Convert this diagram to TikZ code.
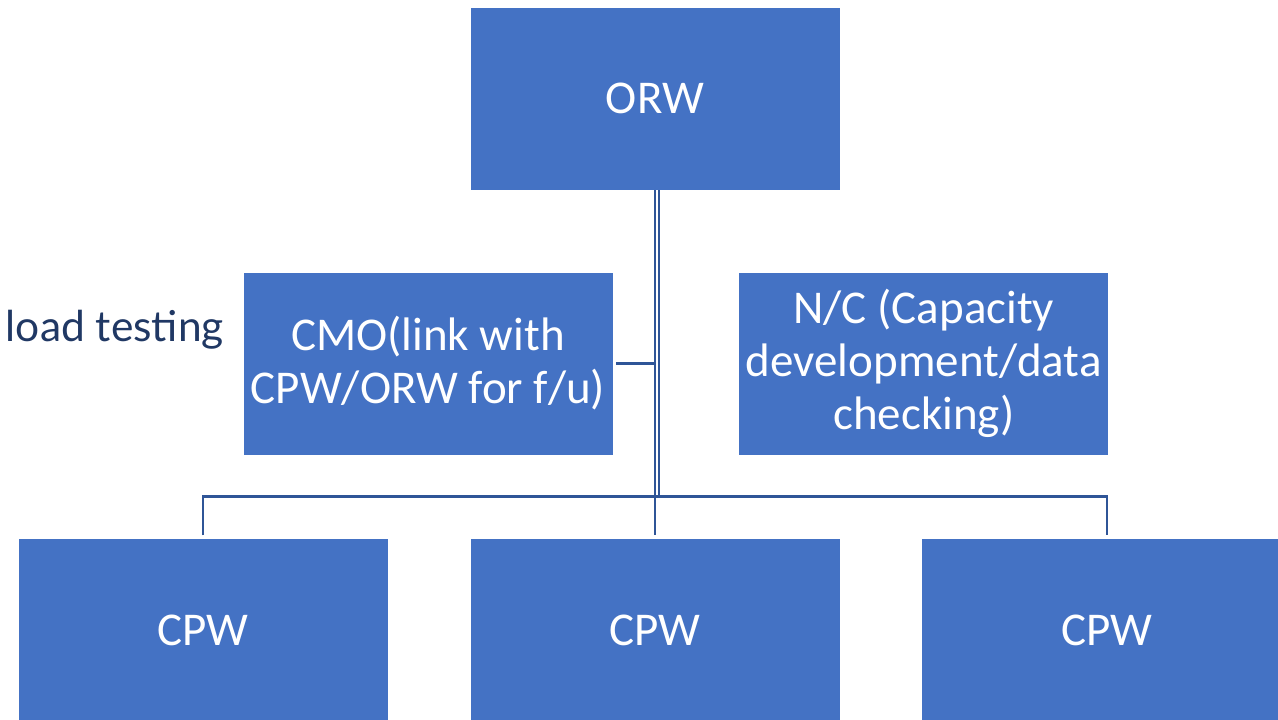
\documentclass[tikz,border=0pt]{standalone}
\usepackage{fontspec}
\setmainfont{Carlito}
\newfontfamily\notefont{Lato}
\usetikzlibrary{positioning}
\definecolor{boxblue}{HTML}{4472C4}
\definecolor{linkblue}{HTML}{2F5597}
\definecolor{notenavy}{HTML}{203864}
\begin{document}
\begin{tikzpicture}[
  box/.style={fill=boxblue, draw=white, line width=0.8pt, text=white, align=center,
              minimum width=370pt, minimum height=183pt, inner sep=0pt,
              font=\fontsize{47}{53}\selectfont},
  note/.style={text=notenavy, inner sep=0pt, font=\notefont\fontsize{42.5}{50}\selectfont},
  link/.style={draw=linkblue, line width=2.4pt},
  node distance=81pt and 81pt]
\useasboundingbox (0,0) rectangle (1278pt,-720pt);
\clip (0,0) rectangle (1278pt,-720pt);
\node[box] (orw) at (655pt,-98.5pt) {ORW};
\node[box] (cmo) at (428pt,-363.5pt) {CMO(link with\\CPW/ORW for f/u)};
\node[box, right=125pt of cmo] (nc) {N/C (Capacity\\development/data\\checking)};
\node[box, below=348pt of orw] (cpw2) {CPW};
\node[box, left=of cpw2] (cpw1) {CPW};
\node[box, right=of cpw2] (cpw3) {CPW};
\node[note, anchor=east] (load) at (224pt,-330pt) {load testing};
% bus level above the bottom row
\coordinate[above=42pt of cpw2.north] (bus);
\draw[link, shorten >=3pt] (orw.south) -- (cpw2.north);
\draw[link, shorten <=3pt] (cmo.east) -- (cmo.east -| orw.south);
\draw[link] ([xshift=4pt]orw.south) -- ([xshift=4pt]orw.south |- bus);
\draw[link, shorten <=3pt, shorten >=3pt] (cpw1.north) |- (cpw3.north |- bus) -- (cpw3.north);
\end{tikzpicture}
\end{document}
